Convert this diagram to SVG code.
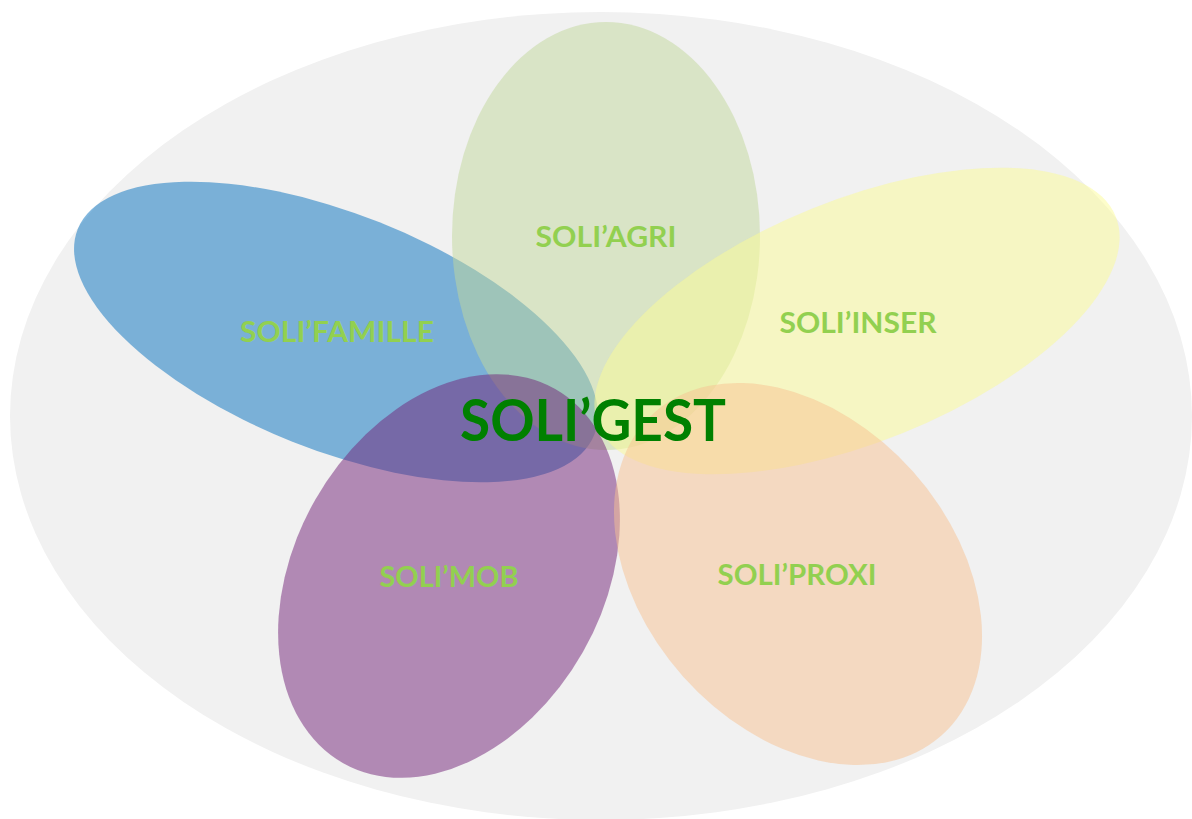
<svg xmlns="http://www.w3.org/2000/svg" width="1192" height="819" viewBox="0 0 1192 819">
<style>
.petal{opacity:0.5}
.lbl{font-family:Lato,"Open Sans","Liberation Sans",sans-serif;font-weight:700;fill:#92d050;font-size:29px;text-anchor:middle}
.main{font-family:Lato,"Open Sans","Liberation Sans",sans-serif;font-weight:700;fill:#008000;font-size:57px;text-anchor:middle}
</style>
<rect width="1192" height="819" fill="#ffffff"/>
<g id="background">
<ellipse cx="601" cy="416" rx="591" ry="404" fill="#f1f1f1"/>
</g>
<g id="famille">
<ellipse class="petal" cx="336" cy="332" rx="278" ry="118" transform="rotate(21.7 336 332)" fill="#036fbd"/>
</g>
<g id="agri">
<ellipse class="petal" cx="606" cy="236" rx="154" ry="214" fill="#c1d79b"/>
</g>
<g id="mob">
<ellipse class="petal" cx="449" cy="576" rx="215" ry="154" transform="rotate(-60.4 449 576)" fill="#712177"/>
</g>
<g id="inser">
<ellipse class="petal" cx="857" cy="321" rx="279" ry="121" transform="rotate(-22 857 321)" fill="#fbfb95"/>
</g>
<g id="proxi">
<ellipse class="petal" cx="798" cy="574" rx="216" ry="154" transform="rotate(48.3 798 574)" fill="#f7c191"/>
</g>
<g id="labels">
<text class="lbl" x="337" y="342" textLength="194" lengthAdjust="spacingAndGlyphs">SOLI’FAMILLE</text>
<text class="lbl" x="606" y="247" textLength="141" lengthAdjust="spacingAndGlyphs">SOLI’AGRI</text>
<text class="lbl" x="858" y="333" textLength="157" lengthAdjust="spacingAndGlyphs">SOLI’INSER</text>
<text class="lbl" x="449" y="587" textLength="139" lengthAdjust="spacingAndGlyphs">SOLI’MOB</text>
<text class="lbl" x="797" y="585" textLength="159" lengthAdjust="spacingAndGlyphs">SOLI’PROXI</text>
</g>
<g id="soligest">
<text class="main" x="593" y="441" textLength="266" lengthAdjust="spacingAndGlyphs">SOLI’GEST</text>
</g>
<g id="connectors"></g>
</svg>
